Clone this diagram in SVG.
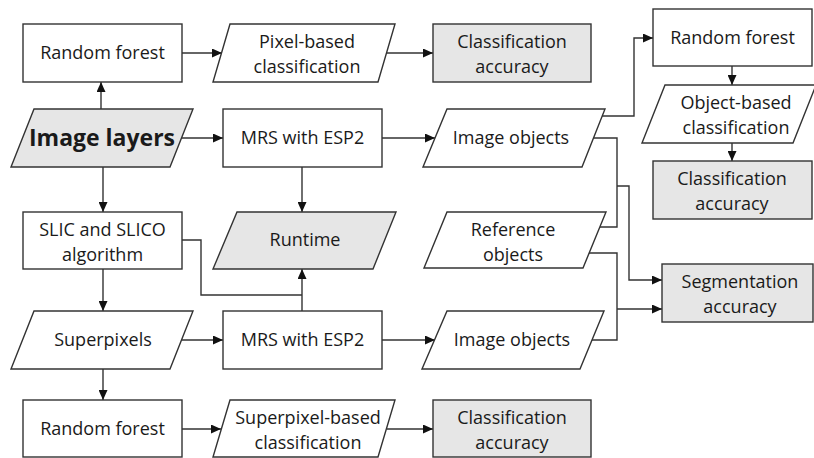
<svg xmlns="http://www.w3.org/2000/svg" width="814" height="458" viewBox="0 0 814 458">
<style>
.b{fill:#fff;stroke:#333;stroke-width:1.4}
.g{fill:#e6e6e6;stroke:#333;stroke-width:1.4}
.t{font-family:"Open Sans","Noto Sans","Liberation Sans",sans-serif;font-size:18px;fill:#1a1a1a;text-anchor:middle}
.big{font-size:23px;font-weight:bold}
.c{fill:none;stroke:#333;stroke-width:1.4}
.ca{fill:none;stroke:#333;stroke-width:1.4;marker-end:url(#ah)}
</style>
<defs>
<marker id="ah" viewBox="0 0 10 9" refX="10" refY="4.5" markerWidth="10" markerHeight="9" markerUnits="userSpaceOnUse" orient="auto">
<path d="M0,0 L10,4.5 L0,9 Z" fill="#111"/>
</marker>
</defs>

<g id="connectors">
<path class="ca" d="M182,53 H222"/>
<path class="ca" d="M387,53 H433"/>
<path class="ca" d="M101,109 V82"/>
<path class="ca" d="M103,167 V212"/>
<path class="ca" d="M182,138 H223"/>
<path class="ca" d="M382,138 H435"/>
<path class="ca" d="M302,167 V212"/>
<path class="ca" d="M602,116 H634 V38 H653"/>
<path class="c" d="M594,138 H617 V227 H600"/>
<path class="ca" d="M617,186 H629 V280 H662"/>
<path class="c" d="M589,253 H617 V340 H592"/>
<path class="ca" d="M617,309 H662"/>
<path class="ca" d="M732,66 V85"/>
<path class="ca" d="M732,143 V161"/>
<path class="c" d="M182,240 H201 V295 H302"/>
<path class="ca" d="M302,311 V269"/>
<path class="ca" d="M103,269 V311"/>
<path class="ca" d="M182,340 H223"/>
<path class="ca" d="M382,340 H435"/>
<path class="ca" d="M103,369 V400"/>
<path class="ca" d="M182,429 H221"/>
<path class="ca" d="M387,429 H433"/>
</g>

<g id="rf1"><rect class="b" x="23" y="24" width="159" height="58"/><text class="t" x="102.5" y="59">Random forest</text></g>
<g id="pixel"><polygon class="b" points="230,24 395,24 378,82 213,82"/><text class="t" x="307" y="48">Pixel-based</text><text class="t" x="307" y="73">classification</text></g>
<g id="ca1"><rect class="g" x="433" y="24" width="158" height="58"/><text class="t" x="512" y="48">Classification</text><text class="t" x="512" y="73">accuracy</text></g>

<g id="layers"><polygon class="g" points="34,109 193,109 170,167 11,167"/><text class="t big" x="102" y="146">Image layers</text></g>
<g id="mrs1"><rect class="b" x="223" y="109" width="159" height="58"/><text class="t" x="302.5" y="144">MRS with ESP2</text></g>
<g id="io1"><polygon class="b" points="447,109 605,109 582,167 423,167"/><text class="t" x="511" y="144">Image objects</text></g>

<g id="rf2"><rect class="b" x="653" y="9" width="159" height="57"/><text class="t" x="732.5" y="44">Random forest</text></g>
<g id="obc"><polygon class="b" points="665,85 816,85 793,143 642,143"/><text class="t" x="736" y="109">Object-based</text><text class="t" x="736" y="134">classification</text></g>
<g id="ca2"><rect class="g" x="653" y="161" width="159" height="58"/><text class="t" x="732" y="185">Classification</text><text class="t" x="732" y="210">accuracy</text></g>

<g id="slic"><rect class="b" x="23" y="212" width="159" height="57"/><text class="t" x="102.5" y="236">SLIC and SLICO</text><text class="t" x="102.5" y="261">algorithm</text></g>
<g id="runtime"><polygon class="g" points="237,212 396,212 373,269 213,269"/><text class="t" x="305" y="246">Runtime</text></g>
<g id="ref"><polygon class="b" points="447,212 606,212 583,268 424,268"/><text class="t" x="513" y="236">Reference</text><text class="t" x="513" y="261">objects</text></g>
<g id="seg"><rect class="g" x="662" y="264" width="151" height="58"/><text class="t" x="740" y="288">Segmentation</text><text class="t" x="740" y="313">accuracy</text></g>

<g id="superpixels"><polygon class="b" points="34,311 193,311 170,369 11,369"/><text class="t" x="103" y="346">Superpixels</text></g>
<g id="mrs2"><rect class="b" x="223" y="311" width="159" height="58"/><text class="t" x="302.5" y="346">MRS with ESP2</text></g>
<g id="io2"><polygon class="b" points="447,311 604,311 580,369 422,369"/><text class="t" x="512" y="346">Image objects</text></g>

<g id="rf3"><rect class="b" x="23" y="400" width="159" height="57"/><text class="t" x="102.5" y="435">Random forest</text></g>
<g id="spbc"><polygon class="b" points="230,400 395,400 378,457 213,457"/><text class="t" x="308" y="424">Superpixel-based</text><text class="t" x="308" y="449">classification</text></g>
<g id="ca3"><rect class="g" x="433" y="400" width="158" height="57"/><text class="t" x="512" y="424">Classification</text><text class="t" x="512" y="449">accuracy</text></g>
</svg>
